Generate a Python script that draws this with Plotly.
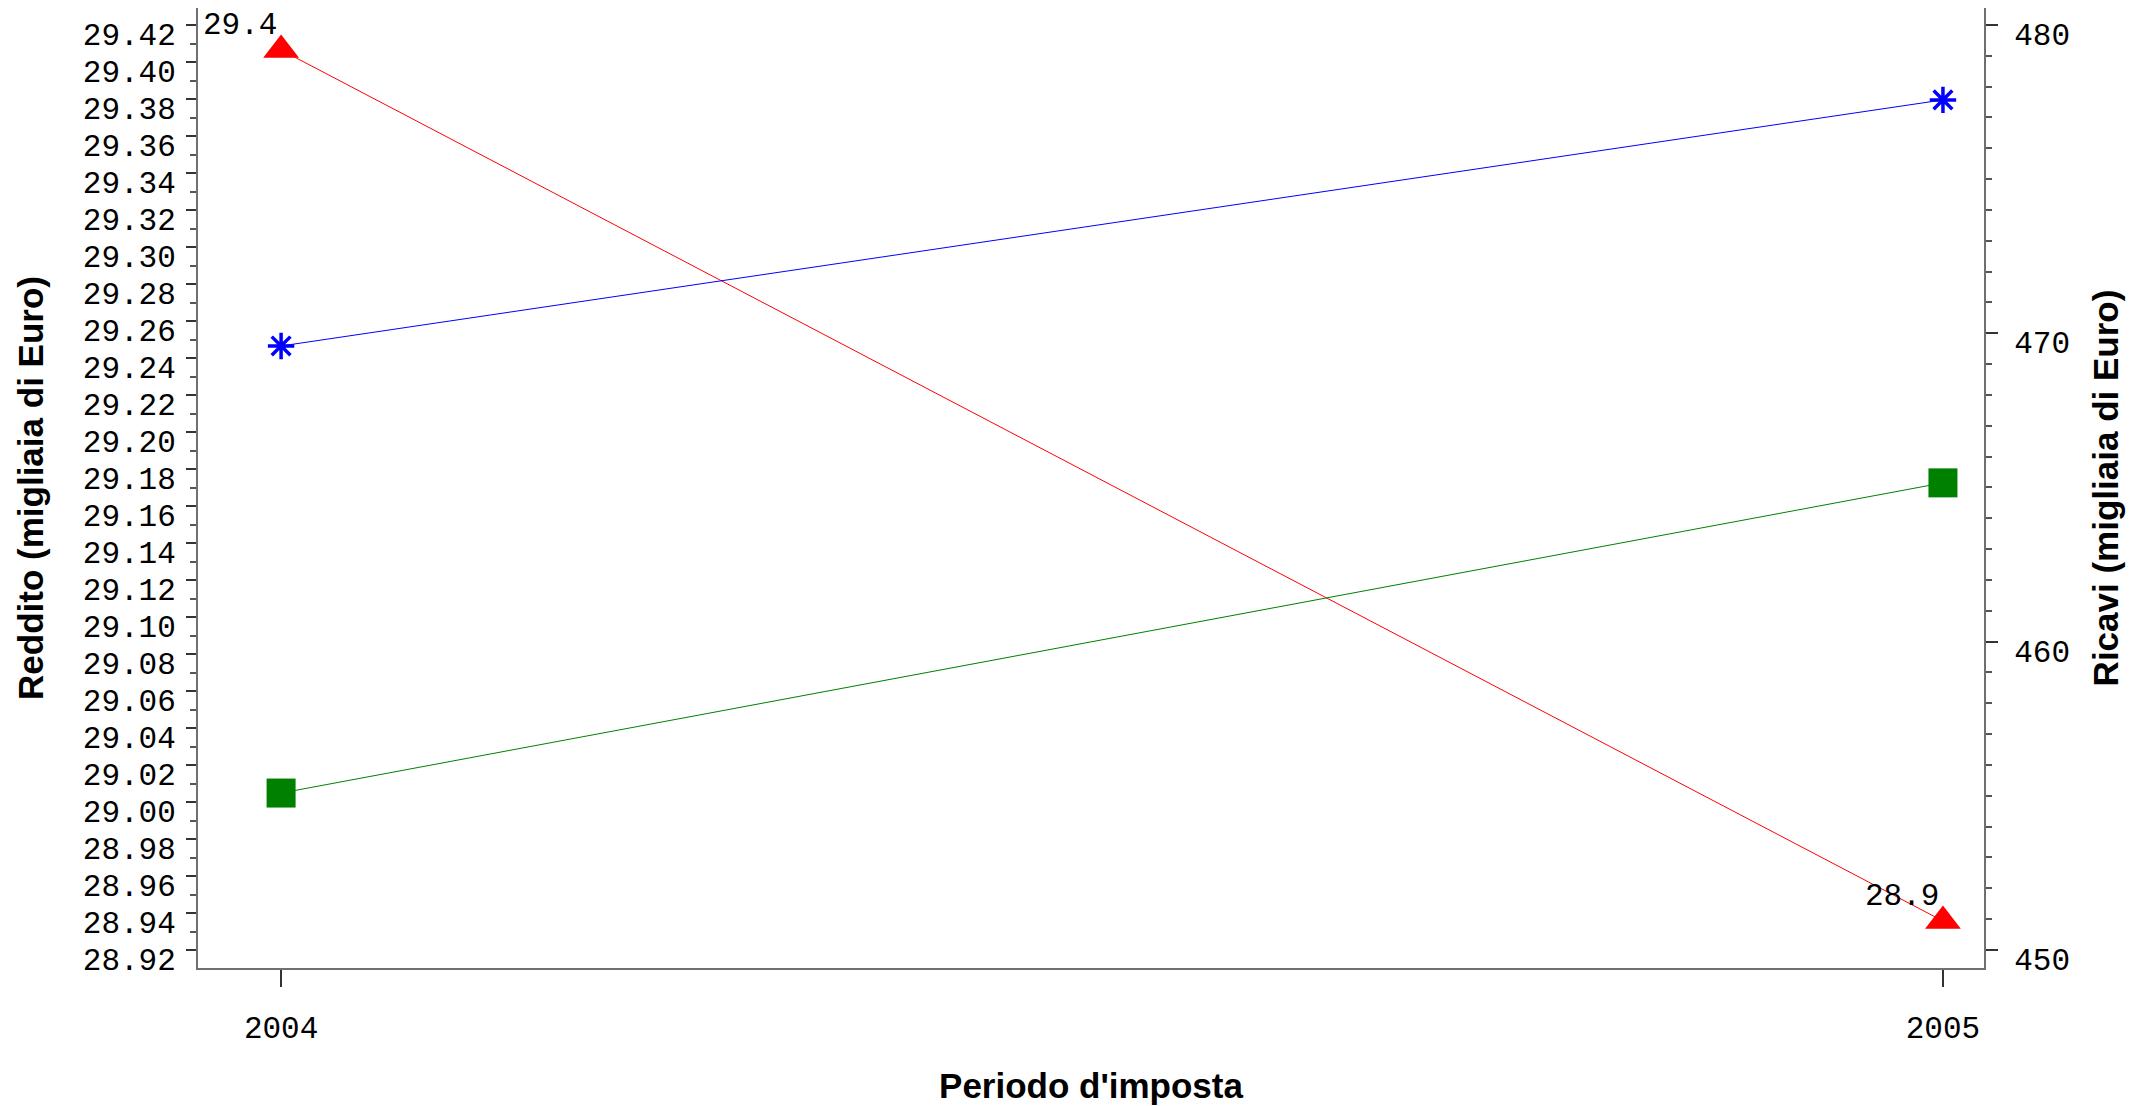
import plotly.graph_objects as go

years = [2004, 2005]
reddito = [29.4065, 28.9357]
reddito_labels = ["29.4", "28.9"]
ricavi_blue = [469.59, 477.57]
ricavi_green = [455.09, 465.15]

left_ticks = [round(28.92 + 0.02 * i, 2) for i in range(26)]
left_ticktext = [f"{v:.2f}" for v in left_ticks]
right_ticks = [450, 460, 470, 480]
x_ticks = [2004, 2005]

MONO = "Liberation Mono, Courier New, monospace"
SANS = "Liberation Sans, Arial, sans-serif"
AXC = "#707070"

fig = go.Figure()
fig.add_trace(go.Scatter(
    x=years, y=reddito, mode="lines+markers",
    line=dict(color="red", width=1),
    marker=dict(symbol="triangle-up", size=31, color="red"),
    yaxis="y", showlegend=False))
fig.add_trace(go.Scatter(
    x=years, y=ricavi_blue, mode="lines+markers",
    line=dict(color="blue", width=1),
    marker=dict(symbol="asterisk-open", size=22, color="blue",
                line=dict(color="blue", width=3.5)),
    yaxis="y2", showlegend=False))
fig.add_trace(go.Scatter(
    x=years, y=ricavi_green, mode="lines+markers",
    line=dict(color="green", width=1),
    marker=dict(symbol="square", size=29, color="green"),
    yaxis="y2", showlegend=False))

for xv, yv, t in zip(years, reddito, reddito_labels):
    fig.add_annotation(x=xv, y=yv, xref="x", yref="y", text=t, showarrow=False,
                       xanchor="right", yanchor="middle", yshift=25, xshift=-2,
                       font=dict(family=MONO, size=31, color="black"))

# page body has an 8px margin; figure sized to fit the 2147x1106 window
fig.update_layout(
    width=2139, height=1098,
    margin=dict(l=190, r=163, t=0, b=138),
    paper_bgcolor="white", plot_bgcolor="white",
    xaxis=dict(range=[2003.95, 2005.0247], tickvals=x_ticks,
               ticktext=[str(v) for v in x_ticks],
               showgrid=False, zeroline=False, automargin=False,
               showline=True, linecolor=AXC, linewidth=2, mirror=True,
               ticks="outside", ticklen=17, tickcolor="#333333", tickwidth=2,
               ticklabelstandoff=14,
               tickfont=dict(family=MONO, size=31, color="black"),
               title=dict(text="<b>Periodo d'imposta</b>", standoff=27,
                          font=dict(family=SANS, size=35, color="black"))),
    yaxis=dict(range=[28.9103, 29.4292], tickvals=left_ticks, ticktext=left_ticktext,
               showgrid=False, zeroline=False, automargin=False,
               showline=True, linecolor=AXC, linewidth=2,
               ticks="outside", ticklen=10, tickcolor="#333333", tickwidth=2,
               ticklabelstandoff=4, ticklabelshift=9, ticklabeloverflow="allow",
               minor=dict(dtick=0.01, tick0=28.92, ticks="outside", ticklen=6,
                          tickcolor="#555555", tickwidth=2),
               tickfont=dict(family=MONO, size=31, color="black"),
               title=dict(text="<b>Reddito (migliaia di Euro)</b>", standoff=29,
                          font=dict(family=SANS, size=35, color="black"))),
    yaxis2=dict(range=[449.416, 480.551], tickvals=right_ticks,
                ticktext=[str(v) for v in right_ticks],
                overlaying="y", side="right",
                showgrid=False, zeroline=False, automargin=False,
                showline=True, linecolor=AXC, linewidth=2,
                ticks="outside", ticklen=12, tickcolor="#333333", tickwidth=2,
                ticklabelstandoff=10, ticklabelshift=9, ticklabeloverflow="allow",
                minor=dict(dtick=1, tick0=450, ticks="outside", ticklen=6,
                           tickcolor="#555555", tickwidth=2),
                tickfont=dict(family=MONO, size=31, color="black"),
                title=dict(text="<b>Ricavi (migliaia di Euro)</b>", standoff=24,
                           font=dict(family=SANS, size=35, color="black"))),
)

fig.write_html("out.html")
